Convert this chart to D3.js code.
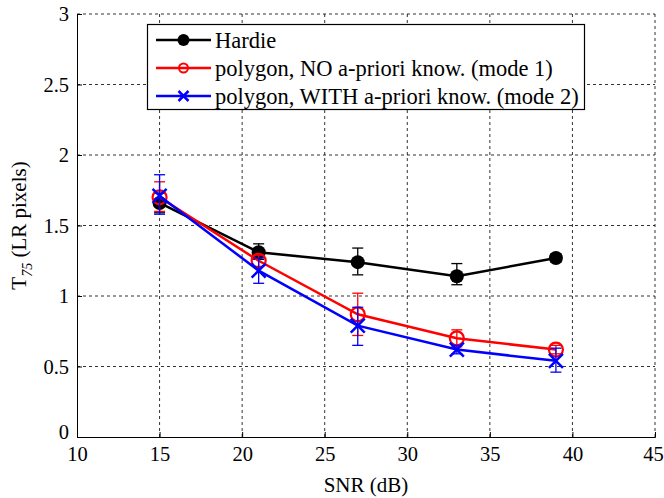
<!DOCTYPE html>
<html>
<head>
<meta charset="utf-8">
<script src="https://cdn.jsdelivr.net/npm/d3@7"></script>
<style>
  html, body { margin: 0; padding: 0; background: #fff; }
  svg text { font-family: "Liberation Serif", "Times New Roman", serif; fill: #000; }
</style>
</head>
<body>
<svg id="chart" width="664" height="498"></svg>
<script>
// SNR levels (dB)
const snr = [15, 21, 27, 33, 39];

// Mean T75 values and error-bar extents for each method
const hardieMean = [1.66, 1.31, 1.24, 1.14, 1.27];
const hardieLow  = [1.59, 1.26, 1.15, 1.08, 1.24];
const hardieHigh = [1.73, 1.37, 1.34, 1.23, 1.30];

const mode1Mean = [1.70, 1.25, 0.87, 0.70, 0.62];
const mode1Low  = [1.60, 1.21, 0.72, 0.64, 0.59];
const mode1High = [1.81, 1.29, 1.02, 0.76, 0.65];

const mode2Mean = [1.71, 1.18, 0.79, 0.62, 0.54];
const mode2Low  = [1.58, 1.09, 0.65, 0.59, 0.46];
const mode2High = [1.86, 1.27, 0.92, 0.65, 0.63];

const xTicks = [10, 15, 20, 25, 30, 35, 40, 45];
const yTicks = [0, 0.5, 1, 1.5, 2, 2.5, 3];
const legendLabels = [
  "Hardie",
  "polygon, NO a-priori know. (mode 1)",
  "polygon, WITH a-priori know. (mode 2)"
];

const svg = d3.select("#chart");
const m = { left: 77, right: 655, top: 14, bottom: 437 };

const x = d3.scaleLinear().domain([10, 45]).range([m.left, m.right]);
const y = d3.scaleLinear().domain([0, 3]).range([m.bottom, m.top]);

// dashed grid
const grid = svg.append("g").attr("stroke", "#000").attr("stroke-width", 1)
  .attr("stroke-dasharray", "3,3");
xTicks.slice(1).forEach(t => {
  grid.append("line").attr("x1", x(t)).attr("x2", x(t))
    .attr("y1", m.bottom).attr("y2", m.top).attr("opacity", 0.8);
});
yTicks.slice(1).forEach(t => {
  grid.append("line").attr("x1", m.left).attr("x2", m.right)
    .attr("y1", y(t)).attr("y2", y(t)).attr("opacity", 0.8);
});

// axes
const xAxis = d3.axisBottom(x).tickValues(xTicks).tickSize(-5).tickPadding(9)
  .tickFormat(d3.format("d"));
const yAxis = d3.axisLeft(y).tickValues(yTicks).tickSize(-5).tickPadding(8)
  .tickFormat(d => d3.format("~g")(d));

const gx = svg.append("g").attr("transform", `translate(0,${m.bottom})`).call(xAxis);
const gy = svg.append("g").attr("transform", `translate(${m.left},0)`).call(yAxis);
[gx, gy].forEach(g => {
  g.attr("font-family", null);
  g.select(".domain").attr("stroke", "#000").attr("stroke-width", 1);
  g.selectAll(".tick line").attr("stroke", "#000");
  g.selectAll(".tick text").attr("font-size", 20.5);
});
gx.selectAll(".tick text").attr("dy", "0.71em");
// keep the last label inside the page edge
gx.selectAll(".tick").filter(d => d === 45).select("text").attr("dx", -2);
gy.selectAll(".tick text").attr("dy", "0.32em");
// "0" label sits slightly above the corner
gy.selectAll(".tick").filter(d => d === 0).select("text").attr("dy", "0.05em");

// axis titles
svg.append("text").attr("x", (m.left + m.right) / 2).attr("y", 492)
  .attr("text-anchor", "middle").attr("font-size", 21).text("SNR (dB)");

const yl = svg.append("text")
  .attr("transform", `translate(26,${(m.top + m.bottom) / 2}) rotate(-90)`)
  .attr("text-anchor", "middle").attr("font-size", 21);
yl.append("tspan").text("T");
yl.append("tspan").attr("font-size", 14).attr("font-style", "italic")
  .attr("dy", 6).text("75");
yl.append("tspan").attr("dy", -6).text(" (LR pixels)");

// series
const series = [
  { mean: hardieMean, low: hardieLow, high: hardieHigh, color: "#000", marker: "dot" },
  { mean: mode1Mean, low: mode1Low, high: mode1High, color: "#ff0000", marker: "circle" },
  { mean: mode2Mean, low: mode2Low, high: mode2High, color: "#0000ff", marker: "cross" }
];

const line = d3.line().x(d => x(d[0])).y(d => y(d[1]));

function drawMarker(g, cx, cy, type, color) {
  if (type === "dot") {
    g.append("circle").attr("cx", cx).attr("cy", cy).attr("r", 7).attr("fill", color);
  } else if (type === "circle") {
    g.append("circle").attr("cx", cx).attr("cy", cy).attr("r", 7)
      .attr("fill", "none").attr("stroke", color).attr("stroke-width", 2.2);
  } else {
    const s = 7;
    g.append("path")
      .attr("d", `M${cx - s},${cy - s}L${cx + s},${cy + s}M${cx - s},${cy + s}L${cx + s},${cy - s}`)
      .attr("stroke", color).attr("stroke-width", 2.5).attr("fill", "none");
  }
}

series.forEach(s => {
  const g = svg.append("g");
  const pts = snr.map((v, i) => [v, s.mean[i]]);
  g.append("path").datum(pts).attr("d", line)
    .attr("fill", "none").attr("stroke", s.color).attr("stroke-width", 2.5);
  // error bars
  snr.forEach((v, i) => {
    const cx = x(v), y1 = y(s.low[i]), y2 = y(s.high[i]);
    g.append("line").attr("x1", cx).attr("x2", cx).attr("y1", y1).attr("y2", y2)
      .attr("stroke", s.color).attr("stroke-width", 1.3);
    [y1, y2].forEach(yy => g.append("line").attr("x1", cx - 5.5).attr("x2", cx + 5.5)
      .attr("y1", yy).attr("y2", yy).attr("stroke", s.color).attr("stroke-width", 1.3));
  });
  snr.forEach((v, i) => drawMarker(g, x(v), y(s.mean[i]), s.marker, s.color));
});

// legend
const lg = svg.append("g");
lg.append("rect").attr("x", 147.5).attr("y", 24.5).attr("width", 437).attr("height", 85)
  .attr("fill", "#fff").attr("stroke", "#000").attr("stroke-width", 1.2);
series.forEach((s, i) => {
  const ly = 40 + i * 28;
  lg.append("line").attr("x1", 156).attr("x2", 211).attr("y1", ly).attr("y2", ly)
    .attr("stroke", s.color).attr("stroke-width", 2.5);
  if (s.marker === "dot") {
    lg.append("circle").attr("cx", 183.5).attr("cy", ly).attr("r", 6).attr("fill", s.color);
  } else if (s.marker === "circle") {
    lg.append("circle").attr("cx", 183.5).attr("cy", ly).attr("r", 4.5)
      .attr("fill", "none").attr("stroke", s.color).attr("stroke-width", 2);
  } else {
    const c = 5;
    lg.append("path")
      .attr("d", `M${183.5 - c},${ly - c}L${183.5 + c},${ly + c}M${183.5 - c},${ly + c}L${183.5 + c},${ly - c}`)
      .attr("stroke", s.color).attr("stroke-width", 2.5);
  }
  lg.append("text").attr("x", 215).attr("y", ly).attr("dy", "0.35em")
    .attr("font-size", 22.5).text(legendLabels[i]);
});
</script>
</body>
</html>
